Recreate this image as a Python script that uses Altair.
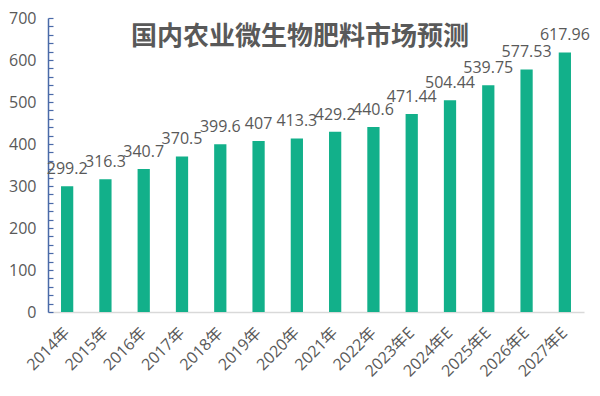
import altair as alt
import pandas as pd

years = ["2014年", "2015年", "2016年", "2017年", "2018年", "2019年", "2020年",
         "2021年", "2022年", "2023年E", "2024年E", "2025年E", "2026年E", "2027年E"]
values = [299.2, 316.3, 340.7, 370.5, 399.6, 407, 413.3, 429.2, 440.6,
          471.44, 504.44, 539.75, 577.53, 617.96]
labels = ["299.2", "316.3", "340.7", "370.5", "399.6", "407", "413.3", "429.2", "440.6",
          "471.44", "504.44", "539.75", "577.53", "617.96"]

df = pd.DataFrame({"year": years, "value": values, "label": labels})

FONT = "'Open Sans', 'Noto Sans CJK SC'"
CJK = "Noto Sans CJK SC"
GRAY = "#595959"
BLUE = "#4a6aa8"
W = 536
H = 294

x = alt.X("year:N", sort=years, title=None,
          scale=alt.Scale(paddingInner=0.68, paddingOuter=0.34),
          axis=alt.Axis(labelAngle=-45, labelFontSize=16, labelColor=GRAY, labelFont=FONT,
                        ticks=False, domainColor="#d9d9d9", domainWidth=1.5,
                        labelPadding=18, labelAlign="right", labelBaseline="middle"))

yscale = alt.Scale(domain=[0, 700], nice=False)

bars = alt.Chart(df).mark_bar(color="#12b08a").encode(
    x=x,
    y=alt.Y("value:Q", scale=yscale, title=None,
            axis=alt.Axis(values=list(range(0, 701, 100)), labelFontSize=16, labelColor=GRAY,
                          labelFont=FONT, ticks=False, grid=False, domainColor=BLUE,
                          domainWidth=1.5, labelPadding=12)),
)

text = alt.Chart(df).mark_text(baseline="bottom", dy=-9, fontSize=16, color=GRAY, font=FONT).encode(
    x=x,
    y=alt.Y("value:Q", scale=yscale, title=None,
            axis=alt.Axis(orient="right", offset=-W, values=list(range(0, 701, 20)), labels=False,
                          ticks=True, tickColor=BLUE, tickSize=5, tickWidth=1.2, domain=False,
                          grid=False)),
    text="label:N",
)

chart = alt.layer(bars, text).resolve_axis(y="independent").properties(
    width=W, height=H,
    title=alt.TitleParams("国内农业微生物肥料市场预测", fontSize=26, fontWeight="bold", color=GRAY,
                          font=CJK, anchor="middle", offset=-40, dx=-16),
    autosize=alt.AutoSizeParams(type="none"),
    padding={"left": 40, "top": 10, "right": 8, "bottom": 76},
).configure_view(stroke=None)

chart.save("out.html", embed_options={"renderer": "svg", "actions": False})
